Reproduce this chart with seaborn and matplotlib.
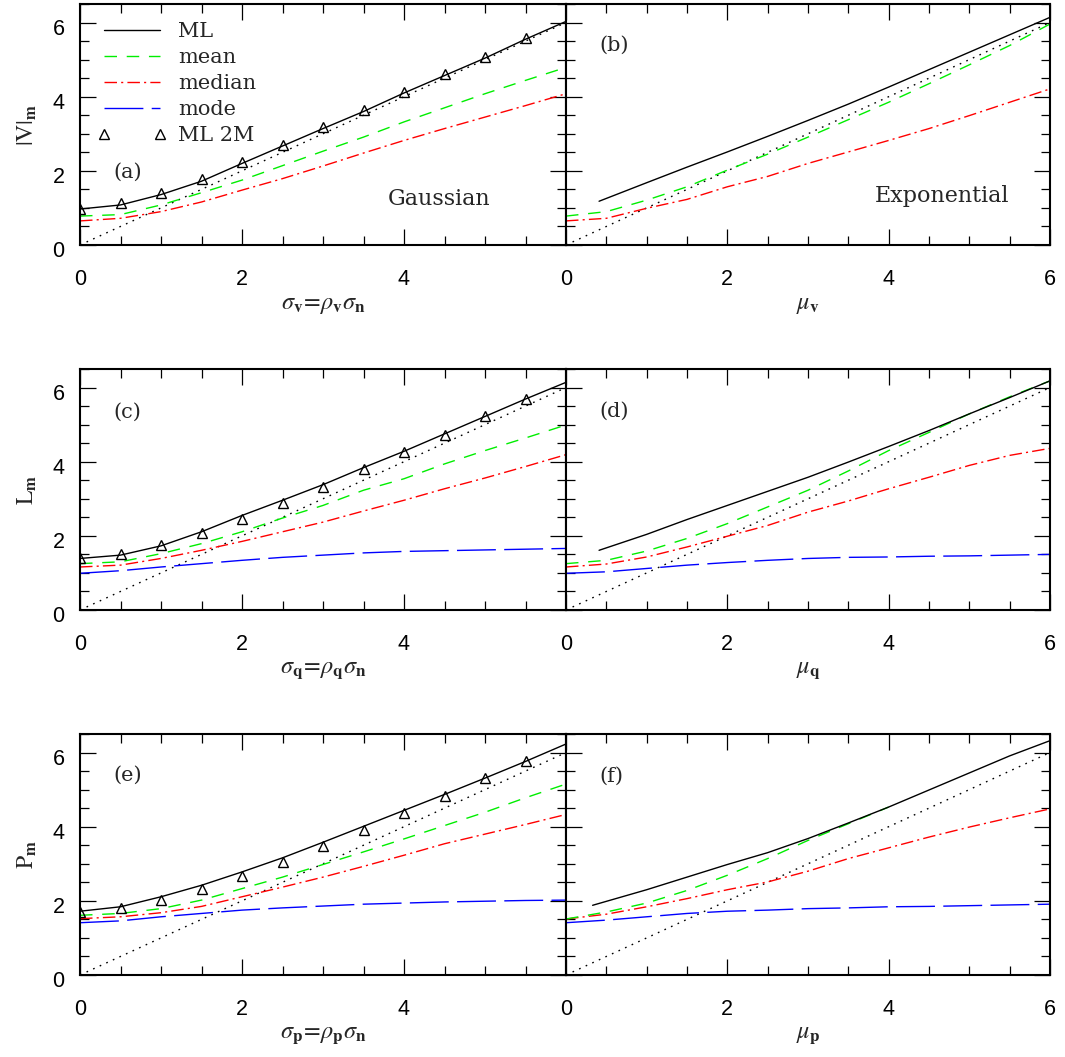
import matplotlib
matplotlib.use("Agg")
import matplotlib.pyplot as plt
from matplotlib.lines import Line2D
from matplotlib.ticker import MultipleLocator
from matplotlib.transforms import ScaledTranslation
import pandas as pd
import seaborn as sns

# ---------------- data ----------------
x_grid = [0, 0.5, 1, 1.5, 2, 2.5, 3, 3.5, 4, 4.5, 5, 5.5, 6]
x_2m = [0, 0.5, 1, 1.5, 2, 2.5, 3, 3.5, 4, 4.5, 5, 5.5]
diag = [0, 6]

# (a) Gaussian, |V|_m
a_ml = [0.97, 1.08, 1.36, 1.72, 2.20, 2.67, 3.14, 3.60, 4.10, 4.57, 5.04, 5.55, 6.03]
a_2m = [0.97, 1.12, 1.41, 1.79, 2.23, 2.71, 3.17, 3.63, 4.13, 4.60, 5.08, 5.57]
a_mean = [0.78, 0.82, 1.08, 1.41, 1.75, 2.14, 2.53, 2.91, 3.32, 3.70, 4.08, 4.44, 4.79]
a_median = [0.65, 0.72, 0.90, 1.16, 1.48, 1.79, 2.13, 2.48, 2.82, 3.14, 3.45, 3.76, 4.08]

# (b) Exponential, |V|_m
b_ml_x = [0.41, 1, 1.5, 2, 2.5, 3, 3.5, 4, 4.5, 5, 5.5, 6]
b_ml = [1.18, 1.68, 2.10, 2.51, 2.93, 3.36, 3.80, 4.26, 4.73, 5.20, 5.67, 6.14]
b_mean = [0.78, 0.90, 1.21, 1.57, 2.02, 2.45, 2.91, 3.38, 3.85, 4.35, 4.86, 5.38, 5.96]
b_median = [0.65, 0.72, 0.99, 1.23, 1.57, 1.85, 2.20, 2.51, 2.82, 3.14, 3.49, 3.85, 4.21]

# (c) Gaussian, L_m
c_ml = [1.39, 1.48, 1.73, 2.11, 2.55, 2.96, 3.38, 3.84, 4.28, 4.75, 5.22, 5.69, 6.14]
c_2m = [1.39, 1.52, 1.75, 2.08, 2.46, 2.89, 3.33, 3.79, 4.26, 4.73, 5.22, 5.69]
c_mean = [1.25, 1.30, 1.52, 1.79, 2.11, 2.48, 2.82, 3.23, 3.54, 3.94, 4.30, 4.64, 4.99]
c_median = [1.16, 1.21, 1.39, 1.61, 1.85, 2.11, 2.37, 2.67, 2.96, 3.27, 3.56, 3.87, 4.19]
c_mode = [0.99, 1.06, 1.16, 1.25, 1.34, 1.42, 1.48, 1.54, 1.58, 1.60, 1.62, 1.64, 1.66]

# (d) Exponential, L_m
d_ml_x = [0.41, 1, 1.5, 2, 2.5, 3, 3.5, 4, 4.5, 5, 5.5, 6]
d_ml = [1.61, 2.04, 2.44, 2.82, 3.20, 3.58, 3.99, 4.41, 4.84, 5.29, 5.73, 6.18]
d_mean = [1.25, 1.34, 1.59, 1.93, 2.33, 2.78, 3.23, 3.75, 4.30, 4.79, 5.29, 5.75, 6.18]
d_median = [1.16, 1.24, 1.43, 1.70, 1.99, 2.28, 2.64, 2.94, 3.27, 3.58, 3.90, 4.17, 4.36]
d_mode = [0.99, 1.03, 1.12, 1.21, 1.28, 1.34, 1.39, 1.42, 1.43, 1.45, 1.46, 1.48, 1.50]

# (e) Gaussian, P_m
e_ml = [1.72, 1.84, 2.11, 2.42, 2.78, 3.16, 3.58, 4.01, 4.44, 4.87, 5.31, 5.76, 6.23]
e_2m = [1.70, 1.81, 2.02, 2.31, 2.67, 3.05, 3.47, 3.92, 4.37, 4.84, 5.30, 5.78]
e_mean = [1.61, 1.66, 1.79, 2.02, 2.33, 2.64, 2.98, 3.32, 3.67, 4.03, 4.39, 4.78, 5.15]
e_median = [1.52, 1.57, 1.68, 1.85, 2.11, 2.37, 2.64, 2.93, 3.23, 3.54, 3.80, 4.06, 4.33]
e_mode = [1.41, 1.46, 1.57, 1.66, 1.75, 1.81, 1.86, 1.91, 1.94, 1.97, 1.99, 2.01, 2.02]

# (f) Exponential, P_m
f_ml_x = [0.33, 1, 1.5, 2, 2.5, 3, 3.5, 4, 4.5, 5, 5.5, 6]
f_ml = [1.88, 2.30, 2.64, 2.98, 3.30, 3.68, 4.10, 4.53, 4.99, 5.45, 5.91, 6.32]
f_mean_x = [0, 0.5, 1, 1.5, 2, 2.5, 3, 3.5, 4]
f_mean = [1.51, 1.70, 1.94, 2.28, 2.69, 3.14, 3.63, 4.08, 4.53]
f_median = [1.51, 1.64, 1.84, 2.06, 2.30, 2.51, 2.80, 3.14, 3.43, 3.72, 3.99, 4.24, 4.48]
f_mode = [1.41, 1.48, 1.57, 1.66, 1.72, 1.75, 1.79, 1.81, 1.84, 1.85, 1.87, 1.89, 1.91]

legend_labels = ["ML", "mean", "median", "mode", "ML 2M"]
panel_tags = ["(a)", "(b)", "(c)", "(d)", "(e)", "(f)"]
x_labels = [r"$\sigma_{\mathbf{v}}\!=\!\rho_{\mathbf{v}}\sigma_{\mathbf{n}}$", r"$\mu_{\mathbf{v}}$",
            r"$\sigma_{\mathbf{q}}\!=\!\rho_{\mathbf{q}}\sigma_{\mathbf{n}}$", r"$\mu_{\mathbf{q}}$",
            r"$\sigma_{\mathbf{p}}\!=\!\rho_{\mathbf{p}}\sigma_{\mathbf{n}}$", r"$\mu_{\mathbf{p}}$"]
y_labels = [r"$|\mathrm{V}|_{\mathbf{m}}$", r"$\mathrm{L}_{\mathbf{m}}$", r"$\mathrm{P}_{\mathbf{m}}$"]

# ---------------- style ----------------
sns.set_style("ticks")
plt.rcParams["mathtext.fontset"] = "stix"
plt.rcParams["lines.scale_dashes"] = False
plt.rcParams["font.family"] = ["Liberation Sans", "DejaVu Sans"]

STY = {
    "ml": dict(color="black", linestyle="-", linewidth=1.0),
    "mean": dict(color="#00ee00", linestyle=(0, (9, 7)), linewidth=1.0),
    "median": dict(color="#ff0000", linestyle=(0, (9, 3, 1.5, 3)), linewidth=1.0),
    "mode": dict(color="#0000ff", linestyle=(0, (28, 6)), linewidth=1.0),
    "diag": dict(color="black", linestyle=(0, (1.2, 4)), linewidth=1.0),
}
TRI = dict(marker="^", markersize=6.5, markerfacecolor="none", markeredgecolor="black",
           markeredgewidth=1.0, linestyle="none", color="black")

fig = plt.figure(figsize=(10.65, 10.57), dpi=100)
W, H = 1065.0, 1057.0
col_left = [80, 566]
col_w = [486, 484]
row_bottom = [245, 610, 975]
row_h = 241

def line(ax, x, y, key):
    df = pd.DataFrame({"x": x, "y": y})
    sns.lineplot(data=df, x="x", y="y", ax=ax, legend=False, errorbar=None, **STY[key])

def tri(ax, x, y):
    df = pd.DataFrame({"x": x, "y": y})
    sns.lineplot(data=df, x="x", y="y", ax=ax, legend=False, errorbar=None, **TRI)

panels = [
    dict(ml=(x_grid, a_ml), twom=a_2m, mean=(x_grid, a_mean), median=a_median, mode=None),
    dict(ml=(b_ml_x, b_ml), twom=None, mean=(x_grid, b_mean), median=b_median, mode=None),
    dict(ml=(x_grid, c_ml), twom=c_2m, mean=(x_grid, c_mean), median=c_median, mode=c_mode),
    dict(ml=(d_ml_x, d_ml), twom=None, mean=(x_grid, d_mean), median=d_median, mode=d_mode),
    dict(ml=(x_grid, e_ml), twom=e_2m, mean=(x_grid, e_mean), median=e_median, mode=e_mode),
    dict(ml=(f_ml_x, f_ml), twom=None, mean=(f_mean_x, f_mean), median=f_median, mode=f_mode),
]

serif = ["DejaVu Serif"]
tag_pos = [(0.068, 0.30), (0.068, 0.83), (0.068, 0.82), (0.068, 0.826), (0.068, 0.83), (0.068, 0.826)]

axes = []
for i, p in enumerate(panels):
    r, c = divmod(i, 2)
    ax = fig.add_axes([col_left[c] / W, 1 - row_bottom[r] / H, col_w[c] / W, row_h / H])
    axes.append(ax)
    line(ax, diag, diag, "diag")
    if p["mode"] is not None:
        line(ax, x_grid, p["mode"], "mode")
    line(ax, x_grid, p["median"], "median")
    line(ax, p["mean"][0], p["mean"][1], "mean")
    line(ax, p["ml"][0], p["ml"][1], "ml")
    if p["twom"] is not None:
        tri(ax, x_2m, p["twom"])

    ax.set_xlim(0, 6)
    ax.set_ylim(0, 6.5)
    ax.xaxis.set_major_locator(MultipleLocator(2))
    ax.xaxis.set_minor_locator(MultipleLocator(0.5))
    ax.yaxis.set_major_locator(MultipleLocator(2))
    ax.yaxis.set_minor_locator(MultipleLocator(0.5))
    ax.tick_params(which="both", direction="in", top=True, right=True,
                   width=0.9, color="black", labelsize=15.5, labelcolor="black")
    ax.tick_params(which="major", length=11.5)
    ax.tick_params(which="minor", length=6.5)
    ax.tick_params(axis="x", which="major", pad=17)
    ax.tick_params(axis="y", which="major", pad=11)
    for s in ax.spines.values():
        s.set_linewidth(1.5)
        s.set_color("black")
    if c == 0:
        ax.set_xticks([0, 2, 4, 6], ["0", "2", "4", ""])
        ax.set_yticks([0, 2, 4, 6], ["0", "2", "4", "6"])
        ax.set_ylabel(y_labels[r], fontsize=17, labelpad=10)
        off = ScaledTranslation(0, -4 / 100.0, fig.dpi_scale_trans)
        for lab in ax.get_yticklabels():
            lab.set_transform(lab.get_transform() + off)
    else:
        ax.set_xticks([0, 2, 4, 6], ["0", "2", "4", "6"])
        ax.set_yticks([0, 2, 4, 6], [])
        ax.set_ylabel("")
    ax.set_xlabel(x_labels[i], fontsize=17.5, labelpad=3)
    ax.text(tag_pos[i][0], tag_pos[i][1], panel_tags[i], transform=ax.transAxes,
            ha="left", va="center", fontsize=15, family=serif)

axes[0].text(0.634, 0.19, "Gaussian", transform=axes[0].transAxes, ha="left", va="center",
             fontsize=16, family=serif)
axes[1].text(0.638, 0.203, "Exponential", transform=axes[1].transAxes, ha="left", va="center",
             fontsize=16, family=serif)

handles = [Line2D([], [], **STY["ml"]), Line2D([], [], **STY["mean"]),
           Line2D([], [], **STY["median"]), Line2D([], [], **STY["mode"]),
           Line2D([], [], **TRI)]
leg = axes[0].legend(handles, legend_labels, loc="upper left", bbox_to_anchor=(0.037, 0.925),
                     frameon=False, borderpad=0, borderaxespad=0, handlelength=3.3,
                     handletextpad=0.53, labelspacing=0.34, numpoints=2,
                     prop={"family": serif, "size": 15})

fig.savefig("out.png", dpi=100)
